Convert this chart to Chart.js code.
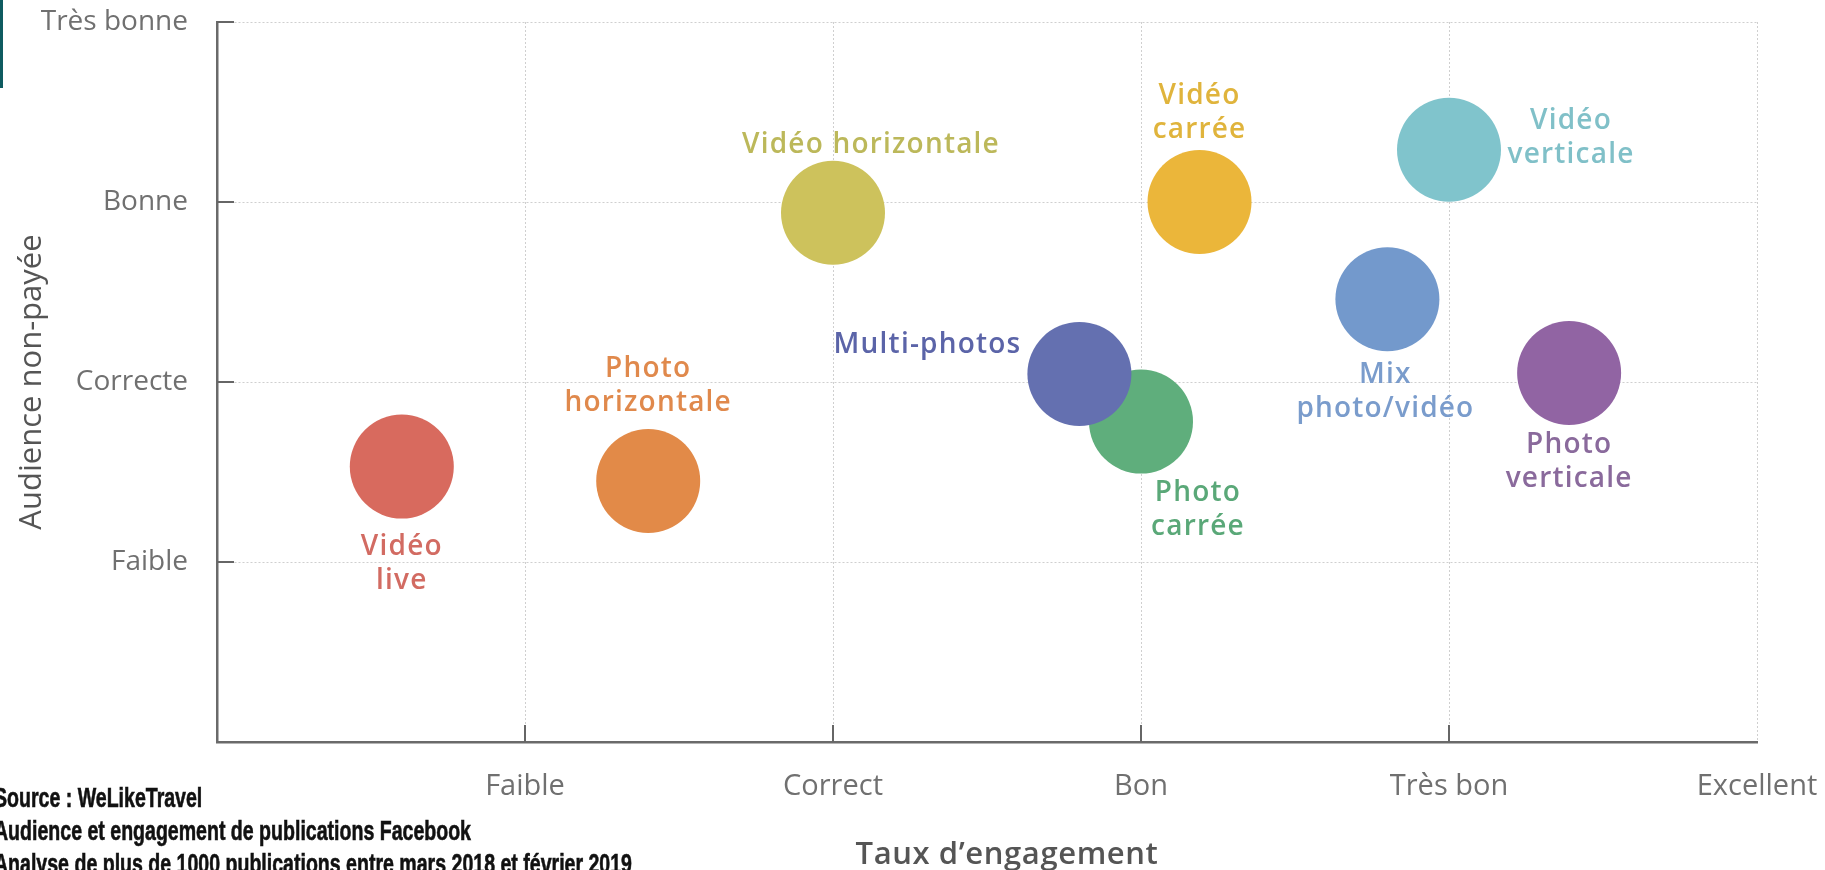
<!DOCTYPE html>
<html lang="fr">
<head>
<meta charset="utf-8">
<title>Audience et engagement</title>
<script src="https://cdn.jsdelivr.net/npm/chart.js@4"></script>
<style>
    body { margin: 0; background: #fff; }
    #wrap { position: relative; width: 1825px; height: 870px; overflow: hidden; }
    #myChart { display: block; }
    #bar { position: absolute; left: 0; top: 0; width: 3px; height: 88px; background: #0e5b60; }
    #source {
        position: absolute; left: -6px; top: 782px; white-space: nowrap;
        font-family: "Liberation Sans", sans-serif;
        font-weight: bold; font-size: 27px; line-height: 33px; color: #111;
        -webkit-text-stroke: 0.6px #111;
        transform-origin: 0 0;
    }
</style>
</head>
<body>
<div id="wrap">
    <canvas id="myChart" width="1825" height="870"></canvas>
    <div id="bar"></div>
    <div id="source">
        <span>Source : WeLikeTravel</span><br>
        <span id="line2">Audience et engagement de publications Facebook</span><br>
        <span>Analyse de plus de 1000 publications entre mars 2018 et février 2019</span>
    </div>
</div>
<script>
const categories  = ['Vidéo live', 'Photo horizontale', 'Vidéo horizontale', 'Multi-photos', 'Photo carrée',
                     'Vidéo carrée', 'Vidéo verticale', 'Mix photo/vidéo', 'Photo verticale'];
const engagement  = [0.60, 1.40, 2.00, 2.80, 3.00, 3.19, 4.00, 3.80, 4.39];
const audience    = [1.53, 1.45, 2.94, 2.045, 1.78, 3.00, 3.29, 2.46, 2.05];
const bubbleSize  = [52, 52, 52, 52, 52, 52, 52, 52, 52];
const xTickLabels = ['', 'Faible', 'Correct', 'Bon', 'Très bon', 'Excellent'];
const yTickLabels = ['', 'Faible', 'Correcte', 'Bonne', 'Très bonne'];

const bubbleColors = ['#d86a5e', '#e28a48', '#cdc25c', '#6470b0', '#5fae7c',
                      '#ebb63a', '#80c4cc', '#7399cc', '#9164a3'];
const textColors   = ['#d26b62', '#e0894c', '#bcb85a', '#5b64a8', '#5aa878',
                      '#e0b43c', '#80c0c8', '#7a9ccc', '#8a6a9c'];

// label text lines and placement relative to the bubble (dx, dy of first line, align)
const labelLines = [['Vidéo', 'live'], ['Photo', 'horizontale'], ['Vidéo horizontale'], ['Multi-photos'],
                    ['Photo', 'carrée'], ['Vidéo', 'carrée'], ['Vidéo', 'verticale'], ['Mix', 'photo/vidéo'],
                    ['Photo', 'verticale']];
const labelPlace = [[0, 80, 'center'], [0, -112, 'center'], [38, -68, 'center'], [-58, -29, 'right'],
                    [57, 71, 'center'], [0, -106, 'center'], [122, -29, 'center'], [-2, 76, 'center'],
                    [0, 72, 'center']];

// squeeze the source lines to the narrow width of the original
const src   = document.getElementById('source');
const line2 = document.getElementById('line2');
src.style.transform = `scaleX(${477 / line2.getBoundingClientRect().width})`;

const bubbleLabels = {
    id: 'bubbleLabels',
    afterDatasetsDraw(chart) {
        const ctx = chart.ctx;
        ctx.save();
        ctx.font = '600 28px "Open Sans"';
        ctx.letterSpacing = '1.2px';
        ctx.textBaseline = 'middle';
        chart.data.datasets.forEach((ds, i) => {
            const pt = chart.getDatasetMeta(i).data[0];
            const [dx, dy, align] = labelPlace[i];
            ctx.fillStyle = textColors[i];
            ctx.textAlign = align;
            labelLines[i].forEach((line, j) => {
                ctx.fillText(line, pt.x + dx, pt.y + dy + j * 34);
            });
        });
        ctx.restore();
    }
};

// small tick marks inside the plot, and the x axis title
const axisExtras = {
    id: 'axisExtras',
    afterDraw(chart) {
        const ctx  = chart.ctx;
        const area = chart.chartArea;
        const x = chart.scales.x;
        const y = chart.scales.y;
        ctx.save();
        ctx.strokeStyle = '#666';
        ctx.lineWidth = 2;
        ctx.beginPath();
        for (let v = 1; v <= 4; v++) {
            const px = x.getPixelForValue(v);
            ctx.moveTo(px, area.bottom);
            ctx.lineTo(px, area.bottom - 17);
            const py = y.getPixelForValue(v);
            ctx.moveTo(area.left, py);
            ctx.lineTo(area.left + 17, py);
        }
        ctx.stroke();

        ctx.font = '600 31px "Open Sans"';
        ctx.letterSpacing = '0.6px';
        ctx.fillStyle = '#555';
        ctx.textAlign = 'center';
        ctx.textBaseline = 'middle';
        ctx.fillText('Taux d\u2019engagement', (area.left + area.right) / 2 + 20, 855);
        ctx.restore();
    }
};

const noPad = (scale) => {
    scale.paddingTop = 0;
    scale.paddingBottom = 0;
    scale.paddingLeft = 0;
    scale.paddingRight = 0;
};

const datasets = categories.map((name, i) => ({
    label: name,
    data: [{ x: engagement[i], y: audience[i], r: bubbleSize[i] }],
    backgroundColor: bubbleColors[i],
    borderWidth: 0,
    hoverRadius: 0
}));

new Chart(document.getElementById('myChart'), {
    type: 'bubble',
    data: { datasets: datasets },
    plugins: [bubbleLabels, axisExtras],
    options: {
        responsive: false,
        animation: false,
        events: [],
        layout: { autoPadding: false, padding: { top: 22, right: 68, left: 0, bottom: 0 } },
        plugins: { legend: { display: false }, tooltip: { enabled: false } },
        scales: {
            x: {
                type: 'linear',
                min: 0,
                max: 5,
                afterFit: (scale) => { scale.height = 128; noPad(scale); },
                ticks: {
                    stepSize: 1,
                    padding: 27,
                    color: '#707070',
                    font: { family: 'Open Sans', size: 29 },
                    callback: (v) => xTickLabels[v]
                },
                grid: { color: '#cfcfcf', lineWidth: 1, drawTicks: false },
                border: { display: true, color: '#6a6a6a', width: 2.5, dash: [2, 2] }
            },
            y: {
                type: 'linear',
                min: 0,
                max: 4,
                afterFit: (scale) => { scale.width = 217; noPad(scale); },
                ticks: {
                    stepSize: 1,
                    padding: 29,
                    color: '#707070',
                    font: { family: 'Open Sans', size: 28 },
                    callback: (v) => yTickLabels[v]
                },
                grid: { color: '#cfcfcf', lineWidth: 1, drawTicks: false },
                border: { display: true, color: '#6a6a6a', width: 2.5, dash: [2, 2] },
                title: {
                    display: true,
                    text: 'Audience non-payée',
                    color: '#555',
                    font: { family: 'Open Sans', size: 31, weight: '500', lineHeight: 1 },
                    padding: { top: 17, bottom: 0 }
                }
            }
        }
    }
});
</script>
</body>
</html>
